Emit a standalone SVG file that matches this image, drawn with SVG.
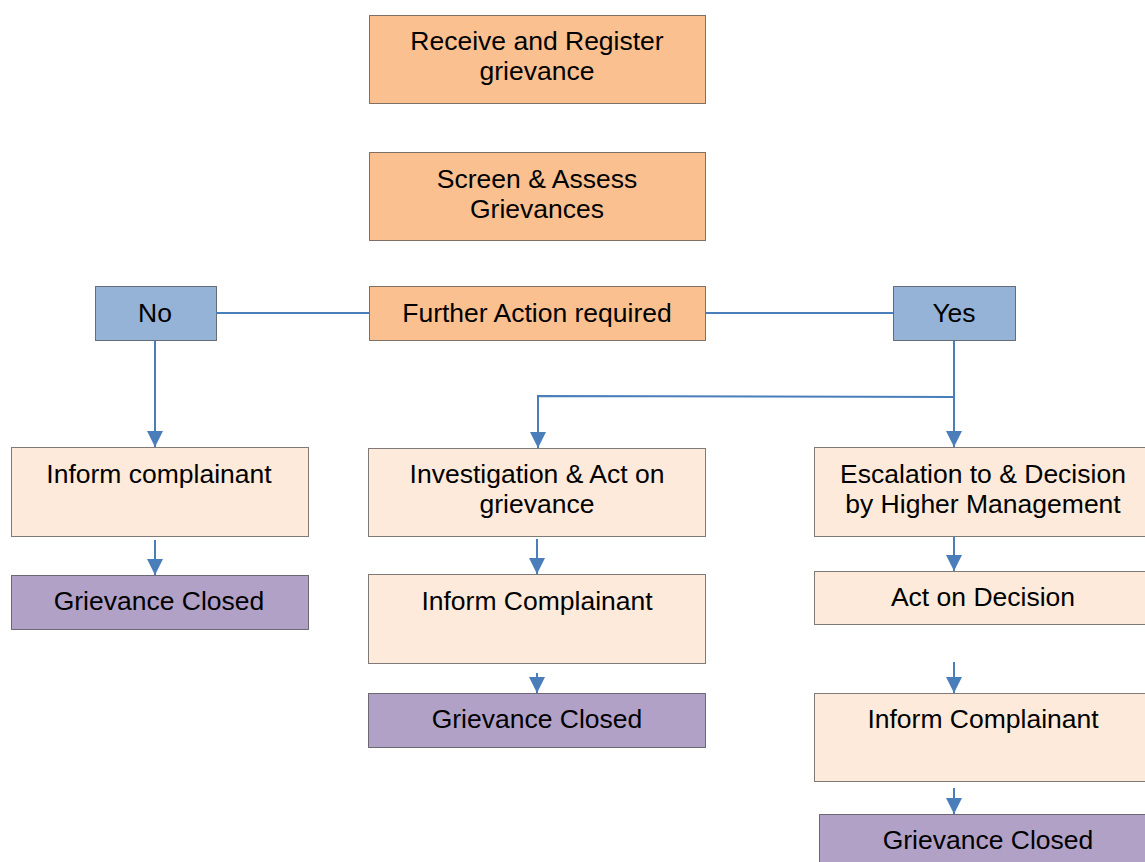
<svg xmlns="http://www.w3.org/2000/svg" width="1145" height="862" viewBox="0 0 1145 862">
<style>
.b{stroke:#000;stroke-width:1;stroke-dasharray:1 1;}
.o{fill:#FAC090;}
.bl{fill:#95B3D7;}
.p{fill:#FDEADA;}
.v{fill:#B2A1C7;}
text{font-family:"Liberation Sans",Arial,sans-serif;font-size:26.5px;fill:#000;text-anchor:middle;}
.c{stroke:#4A7EBB;stroke-width:2;fill:none;}
</style>
<defs>
<marker id="ah" markerUnits="userSpaceOnUse" markerWidth="16" markerHeight="16" viewBox="0 0 16 16" refX="16" refY="8" orient="auto">
<path d="M0,0 L16,8 L0,16 Z" fill="#4A7EBB"/>
</marker>
</defs>
<rect width="1145" height="862" fill="#fff"/>
<g id="n1"><rect class="b o" x="369.5" y="15.5" width="336" height="88"/><text x="537" y="50">Receive and Register</text><text x="537" y="80">grievance</text></g>
<g id="n2"><rect class="b o" x="369.5" y="152.5" width="336" height="88"/><text x="537" y="188">Screen &amp; Assess</text><text x="537" y="218">Grievances</text></g>
<g id="n3"><rect class="b o" x="369.5" y="286.5" width="336" height="54"/><text x="537" y="322">Further Action required</text></g>
<g id="nNo"><rect class="b bl" x="95.5" y="286.5" width="121" height="54"/><text x="155" y="322">No</text></g>
<g id="nYes"><rect class="b bl" x="893.5" y="286.5" width="122" height="54"/><text x="954" y="322">Yes</text></g>
<g id="nL1"><rect class="b p" x="11.5" y="447.5" width="297" height="89"/><text x="159" y="483">Inform complainant</text></g>
<g id="nL2"><rect class="b v" x="11.5" y="575.5" width="297" height="54"/><text x="159" y="610">Grievance Closed</text></g>
<g id="nM1"><rect class="b p" x="368.5" y="448.5" width="337" height="88"/><text x="537" y="483">Investigation &amp; Act on</text><text x="537" y="513">grievance</text></g>
<g id="nM2"><rect class="b p" x="368.5" y="574.5" width="337" height="89"/><text x="537" y="610">Inform Complainant</text></g>
<g id="nM3"><rect class="b v" x="368.5" y="693.5" width="337" height="54"/><text x="537" y="728">Grievance Closed</text></g>
<g id="nR1"><rect class="b p" x="814.5" y="447.5" width="340" height="89"/><text x="983" y="483">Escalation to &amp; Decision</text><text x="983" y="513">by Higher Management</text></g>
<g id="nR2"><rect class="b p" x="814.5" y="571.5" width="340" height="53"/><text x="983" y="606">Act on Decision</text></g>
<g id="nR3"><rect class="b p" x="814.5" y="693.5" width="340" height="88"/><text x="983" y="728">Inform Complainant</text></g>
<g id="nR4"><rect class="b v" x="819.5" y="814.5" width="340" height="60"/><text x="988" y="849">Grievance Closed</text></g>
<g id="connectors">
<line class="c" x1="216" y1="313" x2="369" y2="313" stroke="#5B8AC5"/>
<line class="c" x1="706" y1="313" x2="893" y2="313" stroke="#5B8AC5"/>
<line class="c" x1="155" y1="341" x2="155" y2="447" marker-end="url(#ah)"/>
<line class="c" x1="954" y1="341" x2="954" y2="447" marker-end="url(#ah)"/>
<polyline class="c" points="954,397 538,396 538,448" marker-end="url(#ah)"/>
<line class="c" x1="155" y1="540" x2="155" y2="575" marker-end="url(#ah)"/>
<line class="c" x1="537" y1="539" x2="537" y2="574" marker-end="url(#ah)"/>
<line class="c" x1="537" y1="673" x2="537" y2="693" marker-end="url(#ah)"/>
<line class="c" x1="954" y1="537" x2="954" y2="571" marker-end="url(#ah)"/>
<line class="c" x1="954" y1="662" x2="954" y2="693" marker-end="url(#ah)"/>
<line class="c" x1="954" y1="788" x2="954" y2="814" marker-end="url(#ah)"/>
</g>
</svg>
